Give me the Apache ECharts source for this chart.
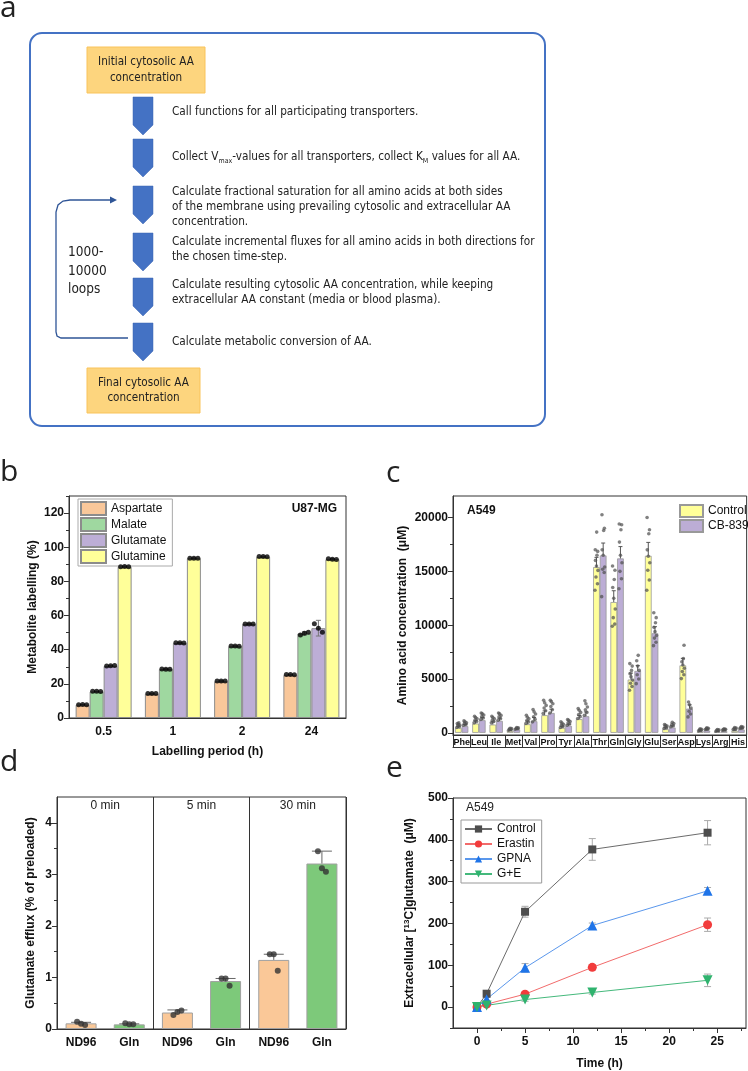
<!DOCTYPE html>
<html><head><meta charset="utf-8">
<script src="https://cdn.jsdelivr.net/npm/echarts@6/dist/echarts.min.js"></script>
<style>html,body{margin:0;padding:0;background:#fff}#c{width:748px;height:1071px}</style>
</head><body><div id="c"></div>
<script>
// ===== Panel a (flow chart) texts =====
const aStartBox = 'Initial cytosolic AA\nconcentration';
const aEndBox = 'Final cytosolic AA\nconcentration';
const aLoopText = '1000-\n10000\nloops';
const aSteps = [
  '{n|Call functions for all participating transporters.}',
  '{n|Collect V}{s|max}{n|-values for all transporters, collect K}{s|M}{n| values for all AA.}',
  '{n|Calculate fractional saturation for all amino acids at both sides}\n{n|of the membrane using prevailing cytosolic and extracellular AA}\n{n|concentration.}',
  '{n|Calculate incremental fluxes for all amino acids in both directions for}\n{n|the chosen time-step.}',
  '{n|Calculate resulting cytosolic AA concentration, while keeping}\n{n|extracellular AA constant (media or blood plasma).}',
  '{n|Calculate metabolic conversion of AA.}'
];

// ===== Panel b data =====
const bCategories = ['0.5', '1', '2', '24'];
const bNames = ['Aspartate', 'Malate', 'Glutamate', 'Glutamine'];
const bAspartate = [7.8, 14.2, 21.5, 25.3];
const bMalate = [15.5, 28.6, 42.0, 49.5];
const bGlutamate = [30.5, 43.9, 55.0, 52.6];
const bGlutamine = [88.6, 93.5, 94.4, 93.0];
const bAspartateSd = [0.2, 0.3, 0.3, 0.3];
const bMalateSd = [0.2, 0.3, 0.3, 0.9];
const bGlutamateSd = [0.3, 0.3, 0.3, 4.6];
const bGlutamineSd = [0.3, 0.3, 0.3, 0.4];
const bAspartateDots = [[7.8, 7.9, 7.8], [14.3, 14.4, 14.3], [21.6, 21.7, 21.6], [25.4, 25.4, 25.3]];
const bMalateDots = [[15.6, 15.6, 15.5], [28.7, 28.6, 28.5], [42.1, 42.1, 42.0], [48.6, 49.6, 50.2]];
const bGlutamateDots = [[30.4, 30.6, 30.7], [44.0, 44.0, 43.9], [55.1, 55.1, 55.0], [55.2, 52.6, 50.2]];
const bGlutamineDots = [[88.6, 88.7, 88.6], [93.5, 93.6, 93.5], [94.5, 94.5, 94.4], [93.2, 93.0, 92.8]];
const bYTicks = [0, 20, 40, 60, 80, 100, 120];
const bYMinor = [10, 30, 50, 70, 90, 110, 130];

// ===== Panel c data =====
const cCategories = ['Phe','Leu','Ile','Met','Val','Pro','Tyr','Ala','Thr','Gln','Gly','Glu','Ser','Asp','Lys','Arg','His'];
const cNames = ['Control', 'CB-839'];
const cControl = [460, 865, 770, 185, 800, 1640, 460, 1270, 15400, 12150, 4950, 16450, 340, 6270, 120, 90, 185];
const cCB839 = [620, 1175, 1110, 310, 1080, 1850, 650, 1545, 16480, 16200, 5750, 9250, 495, 2250, 215, 155, 310];
const cControlSd = [150, 250, 250, 60, 300, 400, 150, 350, 900, 1050, 600, 1240, 120, 650, 50, 40, 60];
const cCB839Sd = [150, 250, 250, 60, 350, 350, 150, 400, 1150, 1100, 500, 610, 150, 350, 60, 50, 70];
const cControlDots = [
  [490, 560, 640, 720, 800, 870, 930],
  [930, 1050, 1180, 1300, 1420, 1545],
  [930, 1050, 1180, 1300, 1420, 1545],
  [250, 300, 350, 400, 430],
  [865, 1000, 1150, 1300, 1450, 1640],
  [1790, 2050, 2300, 2550, 2800, 3030],
  [490, 600, 700, 800, 920, 1020],
  [1330, 1500, 1700, 1900, 2100, 2250],
  [13240, 13850, 14470, 15090, 15500, 16020, 16500, 16855, 17010, 18646],
  [9900, 10100, 10700, 11500, 12500, 13500, 14250, 15100, 15500],
  [3960, 4300, 4600, 4900, 5200, 5500, 5800, 6200, 6430],
  [13240, 14200, 15100, 15800, 16400, 17000, 18500, 18870, 20000],
  [400, 480, 560, 640, 700, 770],
  [5040, 5400, 5700, 6000, 6300, 6600, 6890, 8130],
  [185, 230, 280, 330, 370],
  [155, 200, 240, 280, 310],
  [310, 350, 400, 450, 490]
];
const cCB839Dots = [
  [710, 780, 860, 940, 1020, 1110],
  [1240, 1380, 1520, 1660, 1780, 1850],
  [1175, 1320, 1480, 1620, 1760, 1850],
  [340, 380, 420, 460, 490],
  [1020, 1250, 1500, 1750, 1950, 2160],
  [1850, 2150, 2450, 2700, 2900, 3030],
  [710, 820, 940, 1060, 1160, 1240],
  [1640, 1900, 2150, 2400, 2700, 2970],
  [12650, 14900, 15200, 15400, 16500, 17000, 18800, 19000, 20260],
  [13390, 14320, 15000, 15800, 16500, 17720, 18860, 19330, 19400],
  [4570, 5000, 5400, 5800, 6200, 6700, 7200],
  [8100, 8420, 8800, 9040, 9400, 9800, 10230, 10700, 11160],
  [560, 660, 760, 860, 990],
  [1480, 1750, 2000, 2300, 2600, 2870],
  [310, 350, 390, 430, 460],
  [250, 280, 310, 340, 370],
  [400, 450, 500, 550, 590]
];
const cYTicks = [0, 5000, 10000, 15000, 20000];
const cYMinor = [2500, 7500, 12500, 17500];

// ===== Panel d data =====
const dCategories = ['ND96', 'Gln', 'ND96', 'Gln', 'ND96', 'Gln'];
const dPeriods = ['0 min', '5 min', '30 min'];
const dValues = [0.11, 0.09, 0.32, 0.93, 1.34, 3.21];
const dSd = [0.02, 0.01, 0.05, 0.05, 0.11, 0.24];
const dDots = [[0.14, 0.10, 0.08], [0.11, 0.09, 0.09], [0.27, 0.33, 0.36], [0.98, 0.98, 0.84], [1.45, 1.45, 1.13], [3.45, 3.12, 3.05]];
const dYTicks = [0, 1, 2, 3, 4];
const dYMinor = [0.5, 1.5, 2.5, 3.5];

// ===== Panel e data =====
const eTime = [0, 1, 5, 12, 24];
const eNames = ['Control', 'Erastin', 'GPNA', 'G+E'];
const eControl = [0, 32, 228, 377, 417];
const eErastin = [0, 7, 31, 95, 197];
const eGPNA = [0, 19, 94, 195, 278];
const eGE = [0, 4, 18, 35, 64];
const eControlSd = [3, 5, 13, 26, 29];
const eErastinSd = [2, 3, 5, 6, 16];
const eGPNASd = [2, 4, 10, 6, 8];
const eGESd = [2, 2, 4, 4, 15];
const eXTicks = [0, 5, 10, 15, 20, 25];
const eXMinor = [2.5, 7.5, 12.5, 17.5, 22.5, 27.5];
const eYTicks = [0, 100, 200, 300, 400, 500];
const eYMinor = [-50, 50, 150, 250, 350, 450];

// ===================== build =====================
const F = "'Liberation Sans', Arial, sans-serif";
const NARROW = "'Liberation Sans Narrow', 'Arial Narrow', 'DejaVu Sans Condensed', sans-serif";
const AX = '#333';
const chart = echarts.init(document.getElementById('c'), null, {renderer: 'canvas'});

const graphic = [];
// panel letters
[['a', 0, 8], ['b', 0, 472], ['c', 386, 473], ['d', 0, 762], ['e', 386, 768]].forEach(([t, x, y]) => {
  graphic.push({type: 'text', style: {text: t, x: x, y: y, fontSize: 30, fontFamily: "'Open Sans', sans-serif", fill: '#222', verticalAlign: 'middle'}});
});
// outer rounded box
graphic.push({type: 'rect', shape: {x: 30, y: 33, width: 515, height: 393, r: 12}, style: {fill: 'none', stroke: '#4472C4', lineWidth: 2}});
// orange boxes
function orangeBox(x, y, w, h, txt) {
  graphic.push({type: 'rect', shape: {x: x, y: y, width: w, height: h}, style: {fill: '#FDD57E', stroke: '#F9C35A', lineWidth: 1}});
  graphic.push({type: 'text', style: {text: txt, x: x + w / 2, y: y + h / 2, align: 'center', verticalAlign: 'middle', fontSize: 11.6, lineHeight: 15.5, fontFamily: NARROW, fill: '#222'}});
}
orangeBox(87, 47, 118, 46, aStartBox);
orangeBox(87, 368, 113, 45, aEndBox);
// chevrons + step texts
const chevTops = [97, 139, 186, 233, 278, 323];
const stepY = [112, 157, 207, 249.5, 292.5, 342];
chevTops.forEach((y0, i) => {
  const y1 = y0 + 38;
  graphic.push({type: 'polygon', shape: {points: [[133, y0], [153, y0], [153, y1 - 10], [143, y1], [133, y1 - 10]]}, style: {fill: '#4472C4', stroke: '#3B64B0', lineWidth: 0.5}});
  graphic.push({type: 'text', style: {text: aSteps[i], x: 172, y: stepY[i], verticalAlign: 'middle', fill: '#222',
    rich: {n: {fontSize: 11.7, fontFamily: NARROW, lineHeight: 15, fill: '#222'},
           s: {fontSize: 7, fontFamily: NARROW, lineHeight: 15, verticalAlign: 'bottom', padding: [7, 0, 0, 0], fill: '#222'}}}});
});
// loop arrow
graphic.push({type: 'polyline', shape: {points: [[128, 338], [61, 338], [57, 336], [56, 332], [56, 212], [58, 205], [63, 201], [70, 200], [112, 200]]}, style: {stroke: '#2F5597', lineWidth: 1.3, fill: 'none'}});
graphic.push({type: 'polygon', shape: {points: [[117, 200], [110, 196.5], [110, 203.5]]}, style: {fill: '#2F5597'}});
graphic.push({type: 'text', style: {text: aLoopText, x: 68, y: 271, verticalAlign: 'middle', fontSize: 13.5, lineHeight: 18.5, fontFamily: NARROW, fill: '#222'}});
// in-plot annotations
graphic.push({type: 'text', style: {text: 'U87-MG', x: 337, y: 509, align: 'right', verticalAlign: 'middle', fontSize: 12, fontWeight: 'bold', fontFamily: F, fill: '#111'}});
graphic.push({type: 'text', style: {text: 'A549', x: 467, y: 511, verticalAlign: 'middle', fontSize: 12, fontWeight: 'bold', fontFamily: F, fill: '#111'}});
graphic.push({type: 'text', style: {text: 'A549', x: 466, y: 808, verticalAlign: 'middle', fontSize: 12, fontFamily: F, fill: '#222'}});

const grid = [
  {left: 69, top: 496, width: 277, height: 222},
  {left: 453, top: 496, width: 294, height: 239},
  {left: 57, top: 797, width: 289, height: 232},
  {left: 453, top: 798, width: 293, height: 230}
].map(g => Object.assign({show: true, borderColor: AX, borderWidth: 1, backgroundColor: 'rgba(0,0,0,0)'}, g));

const lbl = {color: '#111', fontWeight: 'bold', fontSize: 12, fontFamily: F};
const nameStyle = {color: '#111', fontWeight: 'bold', fontSize: 12, fontFamily: F};

function mainValueAxis(gi, min, max, ticks, extra) {
  return Object.assign({type: 'value', gridIndex: gi, min: min, max: max,
    axisLine: {show: true, onZero: false, lineStyle: {color: AX}},
    axisTick: {show: true, inside: false, length: 5, customValues: ticks, lineStyle: {color: AX}},
    axisLabel: Object.assign({customValues: ticks, margin: 5, formatter: v => String(v)}, lbl),
    splitLine: {show: false}}, extra || {});
}
function minorAxis(gi, min, max, ticks, pos) {
  return {type: 'value', gridIndex: gi, min: min, max: max, position: pos,
    axisLine: {show: false, onZero: false}, axisLabel: {show: false},
    axisTick: {show: true, inside: false, length: 3, customValues: ticks, lineStyle: {color: AX}},
    splitLine: {show: false}};
}

const xAxis = [
  // 0: b
  {type: 'category', gridIndex: 0, data: bCategories, position: 'bottom', axisLine: {onZero: false, lineStyle: {color: AX}},
   axisTick: {alignWithLabel: true, length: 4, lineStyle: {color: AX}}, axisLabel: Object.assign({margin: 8}, lbl),
   name: 'Labelling period (h)', nameLocation: 'middle', nameGap: 28, nameTextStyle: nameStyle},
  // 1: c
  {type: 'category', gridIndex: 1, data: cCategories, position: 'bottom', axisLine: {onZero: false, lineStyle: {color: AX}},
   axisTick: {show: true, interval: 0, alignWithLabel: false, inside: false, length: 12, lineStyle: {color: AX}},
   axisLabel: Object.assign({}, lbl, {fontSize: 9, margin: 3, interval: 0})},
  // 2: c table bottom
  {type: 'category', gridIndex: 1, data: cCategories, position: 'bottom', offset: 12,
   axisLine: {show: true, onZero: false, lineStyle: {color: AX}}, axisTick: {show: false}, axisLabel: {show: false}},
  // 3: d
  {type: 'category', gridIndex: 2, data: dCategories, position: 'bottom', axisLine: {onZero: false, lineStyle: {color: AX}},
   axisTick: {show: false}, axisLabel: Object.assign({margin: 8, interval: 0}, lbl),
   splitLine: {show: true, interval: (i) => i === 2 || i === 4, lineStyle: {color: AX, width: 1}}},
  // 4: d top period labels
  {type: 'category', gridIndex: 2, data: dPeriods, position: 'top', axisLine: {show: false, onZero: false}, axisTick: {show: false},
   axisLabel: {inside: true, margin: 3, color: '#222', fontSize: 12, fontFamily: F}},
  // 5: e main
  mainValueAxis(3, -2.5, 28, eXTicks, {position: 'bottom', name: 'Time (h)', nameLocation: 'middle', nameGap: 30, nameTextStyle: nameStyle}),
  // 6: e minor
  minorAxis(3, -2.5, 28, eXMinor, 'bottom')
];
xAxis[5].axisLabel.margin = 8;

const yAxis = [
  mainValueAxis(0, 0, 130, bYTicks, {position: 'left', name: 'Metabolite labelling (%)', nameLocation: 'middle', nameGap: 30, nameTextStyle: nameStyle}),
  minorAxis(0, 0, 130, bYMinor, 'left'),
  mainValueAxis(1, -200, 22000, cYTicks, {position: 'left', name: 'Amino acid concentration  (μM)', nameLocation: 'middle', nameGap: 44, nameTextStyle: nameStyle}),
  minorAxis(1, -200, 22000, cYMinor, 'left'),
  mainValueAxis(2, 0, 4.5, dYTicks, {position: 'left', name: 'Glutamate efflux (% of preloaded)', nameLocation: 'middle', nameGap: 20, nameTextStyle: nameStyle}),
  minorAxis(2, 0, 4.5, dYMinor, 'left'),
  mainValueAxis(3, -50, 500, eYTicks, {position: 'left', name: '{n|Extracellular [}{s|13}{n|C]glutamate  (μM)}', nameLocation: 'middle', nameGap: 36,
    nameTextStyle: {rich: {n: {fontWeight: 'bold', fontSize: 12, fontFamily: F, color: '#111', lineHeight: 14},
                           s: {fontWeight: 'bold', fontSize: 8, fontFamily: F, color: '#111', verticalAlign: 'top', lineHeight: 14, padding: [0, 0, 5, 0]}}}}),
  minorAxis(3, -50, 500, eYMinor, 'left')
];

// error bars helper
function errorSeries(xi, yi, rows, opt) {
  return {type: 'custom', xAxisIndex: xi, yAxisIndex: yi, data: rows, z: 5, silent: true,
    encode: {x: 0, y: [1, 2]},
    renderItem: function (params, api) {
      const x = api.value(0), lo = api.value(1), hi = api.value(2), dx = api.value(3) || 0;
      const pHi = api.coord([x, hi]), pLo = api.coord([x, lo]);
      const cx = pHi[0] + dx, hw = opt.cap / 2;
      const st = {stroke: opt.color, lineWidth: 1};
      const ch = [
        {type: 'line', shape: {x1: cx, y1: pLo[1], x2: cx, y2: pHi[1]}, style: st},
        {type: 'line', shape: {x1: cx - hw, y1: pHi[1], x2: cx + hw, y2: pHi[1]}, style: st}
      ];
      if (opt.both) ch.push({type: 'line', shape: {x1: cx - hw, y1: pLo[1], x2: cx + hw, y2: pLo[1]}, style: st});
      return {type: 'group', children: ch};
    }};
}
function dotSeries(xi, yi, dots, offsetFn, jitter, size, color) {
  const data = [];
  dots.forEach((arr, i) => arr.forEach((v, j) => data.push({value: [i, v], symbolOffset: [offsetFn(i) + jitter[j % jitter.length], 0]})));
  return {type: 'scatter', xAxisIndex: xi, yAxisIndex: yi, data: data, symbolSize: size, itemStyle: {color: color}, z: 6, silent: true};
}

const series = [];
// ---- b
const bVals = [bAspartate, bMalate, bGlutamate, bGlutamine];
const bSds = [bAspartateSd, bMalateSd, bGlutamateSd, bGlutamineSd];
const bDots = [bAspartateDots, bMalateDots, bGlutamateDots, bGlutamineDots];
const bColors = ['#F9C79A', '#9FD8A0', '#BDAED6', '#FFFF99'];
const bBarW = 14;
bNames.forEach((n, k) => {
  series.push({type: 'bar', name: n, xAxisIndex: 0, yAxisIndex: 0, data: bVals[k], barWidth: bBarW, barGap: '0%',
    itemStyle: {color: bColors[k], borderColor: '#8c8c8c', borderWidth: 1}, z: 2});
});
bNames.forEach((n, k) => {
  const off = (k - 1.5) * bBarW;
  series.push(errorSeries(0, 0, bVals[k].map((v, i) => [i, v - bSds[k][i], v + bSds[k][i], off]), {cap: 5, color: '#777', both: true}));
  series.push(dotSeries(0, 0, bDots[k], () => off, [-4, 0, 4], 5, '#000'));
});
// ---- c
const cVals = [cControl, cCB839];
const cSds = [cControlSd, cCB839Sd];
const cDots = [cControlDots, cCB839Dots];
const cColors = ['#FFFF99', '#BCADD5'];
const cBarW = 6.7;
cNames.forEach((n, k) => {
  series.push({type: 'bar', name: n, xAxisIndex: 1, yAxisIndex: 2, data: cVals[k], barWidth: cBarW, barGap: '0%',
    itemStyle: {color: cColors[k], borderColor: '#999', borderWidth: 0.8}, z: 2});
});
cNames.forEach((n, k) => {
  const off = (k - 0.5) * cBarW;
  series.push(errorSeries(1, 2, cVals[k].map((v, i) => [i, v, v + cSds[k][i], off]), {cap: 4, color: '#555', both: false}));
  series.push(dotSeries(1, 2, cDots[k], () => off, [-1.5, 1, -0.5, 1.5, 0, -1, 0.5, 1.2, -1.2, 0.2], 3.6, 'rgba(80,80,80,0.9)'));
});
// ---- d
const dColors = ['#FAC898', '#7DC97A'];
series.push({type: 'bar', xAxisIndex: 3, yAxisIndex: 4, barWidth: 31,
  data: dValues.map((v, i) => ({value: v, itemStyle: {color: dColors[i % 2]}})),
  itemStyle: {borderColor: '#a0a0a0', borderWidth: 1}, z: 2});
series.push(errorSeries(3, 4, dValues.map((v, i) => [i, v, v + dSd[i], 0]), {cap: 20, color: '#666', both: false}));
series.push(dotSeries(3, 4, dDots, () => 0, [-4, 0, 4], 6, '#333'));
// ---- e
const eVals = [eControl, eErastin, eGPNA, eGE];
const eSds = [eControlSd, eErastinSd, eGPNASd, eGESd];
const eColors = ['#4D4D4D', '#F23C3C', '#1F74E8', '#2FB36E'];
const eLineColors = ['#6B6B6B', '#F26B6B', '#5A97EC', '#45B97C'];
const eSymbols = ['rect', 'circle', 'triangle', 'triangle'];
const eRot = [0, 0, 0, 180];
const eSizes = [8, 9, 10, 10];
eNames.forEach((n, k) => {
  series.push(errorSeries(5, 6, eVals[k].map((v, i) => [eTime[i], v - eSds[k][i], v + eSds[k][i], 0]), {cap: 7, color: '#aaa', both: true}));
});
eNames.forEach((n, k) => {
  series.push({type: 'line', name: n + ' ', xAxisIndex: 5, yAxisIndex: 6, data: eTime.map((t, i) => [t, eVals[k][i]]),
    symbol: eSymbols[k], symbolRotate: eRot[k], symbolSize: eSizes[k], showAllSymbol: true,
    lineStyle: {color: eLineColors[k], width: 1}, itemStyle: {color: eColors[k]}, z: 7});
});

const legend = [
  {data: bNames, orient: 'vertical', left: 78, top: 499, itemWidth: 25, itemHeight: 13, itemGap: 1, icon: 'rect',
   padding: [2, 6, 2, 2], borderColor: '#aaa', borderWidth: 1, selectedMode: false,
   textStyle: {fontSize: 12, color: '#111', fontFamily: F}},
  {data: cNames, orient: 'vertical', left: 679, top: 504, itemWidth: 23, itemHeight: 12, itemGap: 1, padding: 0, icon: 'rect',
   selectedMode: false, textStyle: {fontSize: 12, color: '#111', fontFamily: F}},
  {data: eNames.map(n => n + ' '), orient: 'vertical', left: 461, top: 820, itemWidth: 27, itemHeight: 9, itemGap: 3,
   padding: [3, 6, 3, 3], borderColor: '#999', borderWidth: 1, selectedMode: false,
   formatter: n => n.trim(), textStyle: {fontSize: 12, color: '#111', fontFamily: F}}
];

chart.setOption({animation: false, backgroundColor: '#fff', grid: grid, xAxis: xAxis, yAxis: yAxis, series: series, legend: legend, graphic: graphic});
</script></body></html>
